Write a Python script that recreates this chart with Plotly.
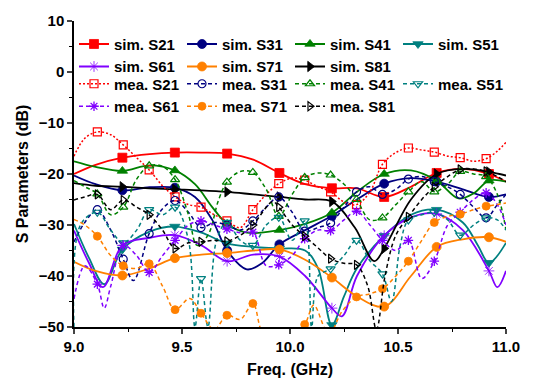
import plotly.graph_objects as go

# ---------------- data ----------------
SIM_MK = [9.224, 9.467, 9.709, 9.951, 10.194, 10.436, 10.679, 10.921]
MEA_MK = [9.108, 9.228, 9.348, 9.468, 9.588, 9.708, 9.828, 9.948,
          10.068, 10.188, 10.308, 10.428, 10.548, 10.668, 10.788, 10.908]

sim_s21_x = [9.0, 9.1, 9.224, 9.35, 9.467, 9.59, 9.709, 9.83, 9.951, 10.07, 10.194, 10.31, 10.436, 10.56, 10.679, 10.8, 10.921, 11.0]
sim_s21_y = [-20.0, -18.2, -16.8, -16.1, -15.8, -15.8, -16.0, -17.2, -19.8, -22.0, -22.8, -22.8, -24.5, -22.5, -19.8, -19.0, -20.0, -21.5]

sim_s31_x = [9.0, 9.1, 9.224, 9.35, 9.467, 9.56, 9.64, 9.709, 9.8, 9.87, 9.951, 10.07, 10.194, 10.31, 10.436, 10.56, 10.679, 10.8, 10.921, 11.0]
sim_s31_y = [-20.3, -22.0, -23.2, -22.6, -22.7, -24.5, -29.0, -35.0, -38.7, -37.5, -33.8, -31.0, -28.2, -25.0, -21.9, -20.8, -21.5, -23.0, -24.5, -24.0]

sim_s41_x = [9.0, 9.1, 9.224, 9.35, 9.467, 9.56, 9.64, 9.709, 9.8, 9.951, 10.07, 10.194, 10.31, 10.436, 10.56, 10.679, 10.78, 10.85, 10.921, 11.0]
sim_s41_y = [-17.5, -18.6, -19.4, -18.3, -19.3, -22.0, -26.5, -29.8, -31.5, -31.0, -29.8, -27.6, -23.5, -20.0, -19.3, -21.3, -24.8, -23.8, -21.3, -21.5]

sim_s51_x = [9.0, 9.07, 9.14, 9.224, 9.35, 9.467, 9.59, 9.709, 9.83, 9.951, 10.07, 10.13, 10.194, 10.25, 10.31, 10.436, 10.56, 10.679, 10.8, 10.87, 10.921, 11.0]
sim_s51_y = [-29.8, -36.5, -41.6, -34.8, -31.3, -30.3, -31.5, -33.6, -34.3, -34.6, -35.0, -38.5, -49.6, -44.0, -38.5, -32.1, -28.0, -27.0, -29.5, -34.0, -37.4, -33.5]

sim_s61_x = [9.0, 9.07, 9.134, 9.224, 9.35, 9.467, 9.59, 9.709, 9.83, 9.951, 10.07, 10.194, 10.24, 10.31, 10.436, 10.56, 10.679, 10.8, 10.921, 10.96, 11.0]
sim_s61_y = [-31.1, -37.5, -42.2, -34.0, -32.5, -32.0, -34.0, -37.1, -35.8, -36.2, -40.0, -46.3, -47.9, -40.0, -32.1, -28.5, -27.8, -31.0, -39.0, -42.2, -39.0]

sim_s71_x = [9.0, 9.1, 9.224, 9.35, 9.467, 9.59, 9.709, 9.83, 9.951, 10.07, 10.194, 10.31, 10.436, 10.56, 10.679, 10.8, 10.921, 11.0]
sim_s71_y = [-37.2, -39.0, -39.9, -38.5, -36.5, -35.8, -35.5, -35.0, -34.8, -36.8, -40.3, -44.0, -46.0, -40.0, -34.3, -32.8, -32.4, -33.3]

sim_s81_x = [9.0, 9.1, 9.224, 9.35, 9.467, 9.59, 9.709, 9.83, 9.951, 10.07, 10.194, 10.3, 10.39, 10.436, 10.56, 10.679, 10.8, 10.921, 11.0]
sim_s81_y = [-21.8, -22.3, -22.5, -22.8, -23.0, -23.2, -23.5, -24.0, -24.5, -25.0, -25.4, -30.5, -37.1, -34.6, -25.0, -20.0, -19.0, -19.6, -20.3]

mea_s21_x = [9.0, 9.05, 9.108, 9.17, 9.228, 9.29, 9.348, 9.41, 9.468, 9.53, 9.588, 9.65, 9.708, 9.77, 9.828, 9.89, 9.948, 10.01, 10.068, 10.13, 10.188, 10.25, 10.308, 10.37, 10.428, 10.49, 10.548, 10.61, 10.668, 10.73, 10.788, 10.85, 10.908, 10.96, 11.0]
mea_s21_y = [-16.5, -13.0, -11.75, -12.3, -14.3, -16.8, -19.2, -22.3, -24.5, -26.0, -26.5, -28.0, -29.2, -30.5, -27.0, -24.0, -21.9, -20.8, -21.2, -22.5, -23.5, -25.5, -26.0, -23.5, -18.1, -15.8, -14.9, -15.3, -15.7, -16.5, -16.8, -17.5, -17.0, -15.5, -13.8]

mea_s31_x = [9.0, 9.05, 9.108, 9.17, 9.228, 9.275, 9.348, 9.41, 9.468, 9.53, 9.588, 9.65, 9.708, 9.77, 9.828, 9.89, 9.948, 10.01, 10.068, 10.13, 10.188, 10.25, 10.308, 10.37, 10.428, 10.49, 10.548, 10.61, 10.668, 10.73, 10.788, 10.85, 10.908, 10.96, 11.0]
mea_s31_y = [-33.3, -29.5, -27.0, -31.0, -36.7, -40.9, -31.7, -26.8, -25.2, -27.5, -30.5, -29.5, -30.0, -31.0, -29.2, -26.5, -24.5, -27.5, -31.2, -30.5, -29.6, -26.5, -23.5, -22.5, -24.0, -23.0, -21.0, -20.5, -21.5, -22.5, -24.0, -26.5, -28.6, -26.0, -24.0]

mea_s41_x = [9.0, 9.05, 9.108, 9.17, 9.228, 9.29, 9.348, 9.41, 9.468, 9.53, 9.57, 9.62, 9.67, 9.708, 9.77, 9.828, 9.89, 9.948, 10.01, 10.068, 10.13, 10.188, 10.25, 10.308, 10.37, 10.428, 10.49, 10.548, 10.61, 10.668, 10.73, 10.788, 10.85, 10.908, 10.96, 11.0]
mea_s41_y = [-21.3, -22.5, -23.9, -28.0, -26.5, -21.0, -18.4, -18.5, -21.1, -28.0, -34.0, -32.0, -25.0, -21.6, -19.5, -19.7, -23.0, -28.3, -24.0, -20.7, -19.8, -20.2, -22.0, -25.0, -29.0, -28.6, -26.0, -23.5, -21.5, -23.5, -22.0, -19.5, -20.0, -20.5, -24.0, -31.0]

mea_s51_x = [9.0, 9.03, 9.108, 9.17, 9.228, 9.29, 9.348, 9.41, 9.468, 9.53, 9.56, 9.588, 9.62, 9.66, 9.708, 9.77, 9.828, 9.89, 9.948, 10.01, 10.068, 10.1, 10.13, 10.188, 10.25, 10.308, 10.37, 10.428, 10.47, 10.51, 10.548, 10.61, 10.668, 10.73, 10.788, 10.85, 10.908, 10.96, 11.0]
mea_s51_y = [-50.0, -30.0, -27.5, -31.0, -33.5, -31.0, -27.0, -28.0, -26.5, -33.0, -50.0, -40.5, -50.0, -33.0, -29.5, -33.0, -34.0, -30.0, -28.5, -33.0, -29.2, -50.0, -40.0, -38.6, -36.0, -33.0, -37.0, -39.6, -45.0, -34.0, -29.0, -28.0, -27.5, -29.0, -32.0, -30.0, -28.6, -29.0, -31.0]

mea_s61_x = [9.0, 9.05, 9.108, 9.14, 9.17, 9.228, 9.29, 9.348, 9.41, 9.468, 9.53, 9.588, 9.65, 9.708, 9.77, 9.828, 9.89, 9.948, 10.01, 10.068, 10.13, 10.188, 10.25, 10.308, 10.37, 10.428, 10.49, 10.548, 10.61, 10.668, 10.73, 10.788, 10.85, 10.908, 10.96, 11.0]
mea_s61_y = [-44.5, -38.0, -41.6, -46.3, -42.0, -34.0, -36.0, -39.3, -36.0, -33.0, -30.0, -29.2, -30.0, -30.8, -31.5, -31.4, -38.0, -37.8, -36.0, -32.7, -31.0, -31.1, -29.0, -27.3, -30.0, -33.0, -35.0, -33.0, -40.5, -37.1, -30.0, -27.5, -25.0, -23.7, -26.0, -30.0]

mea_s71_x = [9.0, 9.05, 9.108, 9.17, 9.228, 9.29, 9.348, 9.41, 9.468, 9.536, 9.588, 9.65, 9.708, 9.77, 9.828, 9.87, 9.948, 10.02, 10.068, 10.11, 10.165, 10.188, 10.24, 10.308, 10.37, 10.428, 10.49, 10.548, 10.61, 10.668, 10.73, 10.788, 10.85, 10.908, 10.96, 11.0]
mea_s71_y = [-28.9, -30.0, -32.2, -36.0, -38.0, -38.5, -37.6, -42.0, -46.6, -44.4, -47.3, -50.5, -47.7, -48.5, -45.4, -51.0, -55.0, -51.0, -49.5, -45.7, -50.5, -51.0, -47.0, -44.1, -43.5, -42.5, -40.0, -37.1, -33.0, -29.5, -28.3, -27.9, -27.0, -26.3, -26.0, -25.7]

mea_s81_x = [9.0, 9.05, 9.108, 9.17, 9.228, 9.29, 9.348, 9.41, 9.468, 9.53, 9.588, 9.65, 9.708, 9.77, 9.828, 9.92, 9.948, 10.01, 10.068, 10.13, 10.188, 10.25, 10.308, 10.36, 10.4, 10.44, 10.49, 10.548, 10.61, 10.668, 10.73, 10.788, 10.85, 10.908, 10.96, 11.0]
mea_s81_y = [-25.1, -24.5, -24.0, -27.0, -25.1, -26.5, -28.0, -31.0, -34.6, -33.5, -33.3, -33.0, -33.2, -32.0, -30.0, -25.4, -26.5, -30.0, -32.2, -34.5, -36.6, -37.5, -37.8, -42.0, -50.5, -40.0, -32.0, -28.4, -25.0, -22.5, -20.5, -19.1, -19.0, -19.5, -20.5, -21.5]

RED, NAVY, GREEN, TEAL = "#FF0000", "#000080", "#008000", "#008080"
VIOLET, ORANGE, BLACK = "#8000FF", "#FF8000", "#000000"

sim_series = [
    ("sim. S21", sim_s21_x, sim_s21_y, RED, "square"),
    ("sim. S31", sim_s31_x, sim_s31_y, NAVY, "circle"),
    ("sim. S41", sim_s41_x, sim_s41_y, GREEN, "triangle-up"),
    ("sim. S51", sim_s51_x, sim_s51_y, TEAL, "triangle-down"),
    ("sim. S61", sim_s61_x, sim_s61_y, VIOLET, "asterisk"),
    ("sim. S71", sim_s71_x, sim_s71_y, ORANGE, "circle"),
    ("sim. S81", sim_s81_x, sim_s81_y, BLACK, "triangle-right"),
]
mea_series = [
    ("mea. S21", mea_s21_x, mea_s21_y, RED, "square-open", "2px,2px"),
    ("mea. S31", mea_s31_x, mea_s31_y, NAVY, "circle-open", "4px,3px"),
    ("mea. S41", mea_s41_x, mea_s41_y, GREEN, "triangle-up-open", "4px,3px"),
    ("mea. S51", mea_s51_x, mea_s51_y, TEAL, "triangle-down-open", "4px,3px"),
    ("mea. S61", mea_s61_x, mea_s61_y, VIOLET, "asterisk-open", "4px,3px"),
    ("mea. S71", mea_s71_x, mea_s71_y, ORANGE, "circle", "4px,3px"),
    ("mea. S81", mea_s81_x, mea_s81_y, BLACK, "triangle-right-open", "4px,3px"),
]

fig = go.Figure()


def add_series(name, xs, ys, color, symbol, marks, dash, legend, msize, lw):
    # smooth curve
    fig.add_trace(go.Scatter(x=xs, y=ys, mode="lines", line=dict(color=color, width=lw, shape="spline", dash=dash),
                             showlegend=False, hoverinfo="skip"))
    # markers at the marker positions
    mx = [x for x in xs if any(abs(x - m) < 1e-6 for m in marks)]
    my = [y for x, y in zip(xs, ys) if any(abs(x - m) < 1e-6 for m in marks)]
    open_sym = symbol.endswith("open")
    mk = dict(symbol=symbol, size=msize, color=color, line=dict(color=color, width=1.2 if open_sym else 0.8))
    if symbol == "asterisk-open":
        mk["line"] = dict(color=color, width=1.3)
    fig.add_trace(go.Scatter(x=mx, y=my, mode="markers", marker=mk, showlegend=False, hoverinfo="skip"))
    # legend entry
    fig.add_trace(go.Scatter(x=[None], y=[None], mode="lines+markers", name=name,
                             line=dict(color=color, width=lw, dash=dash), marker=mk, legend=legend))


for name, xs, ys, c, s in sim_series:
    add_series(name, xs, ys, c, s, SIM_MK, "solid", "legend", 9, 1.8)
for name, xs, ys, c, s, d in mea_series:
    add_series(name, xs, ys, c, s, MEA_MK, d, "legend2", 8, 1.5)

FONT = "Arial, Liberation Sans, sans-serif"
leg = dict(orientation="h", xanchor="left", yanchor="top", bgcolor="rgba(0,0,0,0)",
           font=dict(family=FONT, size=15, color="black", weight="bold"),
           entrywidth=63, entrywidthmode="pixels", tracegroupgap=0, itemwidth=30)

fig.update_layout(
    width=559, height=388,
    margin=dict(l=74, r=53, t=14, b=59),
    paper_bgcolor="white", plot_bgcolor="white",
    font=dict(family=FONT, color="black", size=14, weight="bold"),
    legend=dict(leg, x=0.0, y=0.978),
    legend2=dict(leg, x=0.0, y=0.848),
    xaxis=dict(range=[9.0, 11.0], dtick=0.5, tick0=9.0, tickformat=".1f", showline=True, linecolor="black",
               linewidth=1.5, ticks="outside", ticklen=5, tickwidth=1.5, showgrid=False, zeroline=False,
               minor=dict(dtick=0.25, ticks="outside", ticklen=3, tickwidth=1.2, tickcolor="black"),
               tickfont=dict(size=15, family=FONT, weight="bold"),
               title=dict(text="Freq. (GHz)", font=dict(size=16, family=FONT, weight="bold"), standoff=10)),
    yaxis=dict(range=[-50, 10], dtick=10, tick0=-50, showline=True, linecolor="black", linewidth=1.5,
               ticks="outside", ticklen=5, tickwidth=1.5, showgrid=False, zeroline=False,
               minor=dict(dtick=5, ticks="outside", ticklen=3, tickwidth=1.2, tickcolor="black"),
               tickfont=dict(size=15, family=FONT, weight="bold"),
               title=dict(text="S Parameters (dB)", font=dict(size=16, family=FONT, weight="bold"), standoff=6)),
)

fig.write_html("out.html")
